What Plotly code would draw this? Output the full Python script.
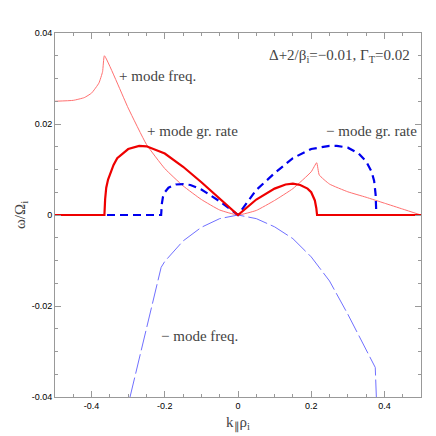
import plotly.graph_objects as go

pf_x = [-0.5,-0.45,-0.42,-0.4,-0.38,-0.37,-0.365,-0.3,-0.25,-0.2,-0.15,-0.1,-0.05,0,0.05,0.1,0.15,0.2,0.215,0.222,0.25,0.3,0.35,0.4,0.45,0.5]
pf_y = [0.025,0.0252,0.0258,0.0268,0.029,0.0315,0.035,0.0235,0.0155,0.0102,0.0064,0.0034,0.0011,0,0.001,0.0032,0.0058,0.0095,0.0115,0.0088,0.0068,0.0051,0.0039,0.0026,0.0013,0]
pg_x = [-0.5,-0.365,-0.363,-0.36,-0.355,-0.35,-0.34,-0.33,-0.3,-0.27,-0.25,-0.2,-0.15,-0.1,-0.05,0,0.05,0.1,0.13,0.15,0.17,0.19,0.2,0.21,0.214,0.216,0.5]
pg_y = [0,0,0.0035,0.006,0.0078,0.009,0.011,0.0125,0.0145,0.0152,0.0151,0.0135,0.0106,0.0072,0.0036,0,0.0034,0.0058,0.0067,0.0069,0.0066,0.0058,0.005,0.0032,0.0015,0,0]
mg_x = [-0.5,-0.21,-0.208,-0.205,-0.2,-0.19,-0.17,-0.15,-0.13,-0.1,-0.05,0,0.05,0.1,0.15,0.2,0.25,0.27,0.3,0.33,0.35,0.365,0.372,0.376,0.378,0.5]
mg_y = [0,0,0.0025,0.004,0.005,0.006,0.0067,0.0068,0.0066,0.0056,0.003,0,0.0055,0.0092,0.0125,0.0145,0.0152,0.0152,0.0148,0.0135,0.0118,0.0095,0.0075,0.0045,0,0]
mf_x = [-0.295,-0.21,-0.2,-0.15,-0.1,-0.05,0,0.05,0.1,0.15,0.2,0.25,0.3,0.35,0.375,0.378]
mf_y = [-0.04,-0.0115,-0.0102,-0.0057,-0.0027,-0.0008,0,-0.0008,-0.0026,-0.0052,-0.0092,-0.0145,-0.0218,-0.0298,-0.0335,-0.04]

fig = go.Figure()
fig.add_trace(go.Scatter(x=pf_x, y=pf_y, mode="lines", line=dict(color="#ff7070", width=1, shape="spline", smoothing=0.4)))
fig.add_trace(go.Scatter(x=mf_x, y=mf_y, mode="lines", line=dict(color="#7070ff", width=1, dash="20px,4px")))
fig.add_trace(go.Scatter(x=mg_x, y=mg_y, mode="lines", line=dict(color="#0000ee", width=2.2, dash="8px,5px")))
fig.add_trace(go.Scatter(x=pg_x, y=pg_y, mode="lines", line=dict(color="#ee0000", width=2.2)))

ax = dict(showgrid=False, zeroline=False, mirror="ticks", ticks="inside", ticklen=6, showline=True,
          linecolor="#999", tickcolor="#999", linewidth=1,
          tickfont=dict(family="Liberation Sans", size=9, color="black"),
          minor=dict(ticks="inside", ticklen=3, tickcolor="#999"))
fig.update_xaxes(**ax, range=[-0.5,0.5], tickvals=[-0.4,-0.2,0,0.2,0.4], ticktext=["-0.4","-0.2","0","0.2","0.4"],
                 minor_dtick=0.05, title=dict(text="k<sub>∥</sub>ρ<sub>i</sub>", font=dict(family="Liberation Serif", size=15, color="#444"), standoff=6))
fig.update_yaxes(**ax, range=[-0.04,0.04], tickvals=[-0.04,-0.02,0,0.02,0.04], ticktext=["-0.04","-0.02","0","0.02","0.04"],
                 minor_dtick=0.005, title=dict(text="ω/Ω<sub>i</sub>", font=dict(family="Liberation Serif", size=15, color="#444"), standoff=2))

af = dict(family="Liberation Serif", size=15, color="#444")
for x, y, t, a in [(0.475,0.035,"Δ+2/β<sub>i</sub>=−0.01, Γ<sub>T</sub>=0.02","right"),
                   (-0.33,0.0305,"+ mode freq.","left"),
                   (-0.255,0.0185,"+ mode gr. rate","left"),
                   (0.495,0.0185,"− mode gr. rate","right"),
                   (-0.215,-0.0265,"− mode freq.","left")]:
    fig.add_annotation(x=x, y=y, text=t, showarrow=False, xanchor=a, font=af)

fig.update_layout(width=436, height=436, margin=dict(l=47, r=23, t=25, b=47), showlegend=False,
                  plot_bgcolor="white", paper_bgcolor="white")
fig.write_html("out.html")
